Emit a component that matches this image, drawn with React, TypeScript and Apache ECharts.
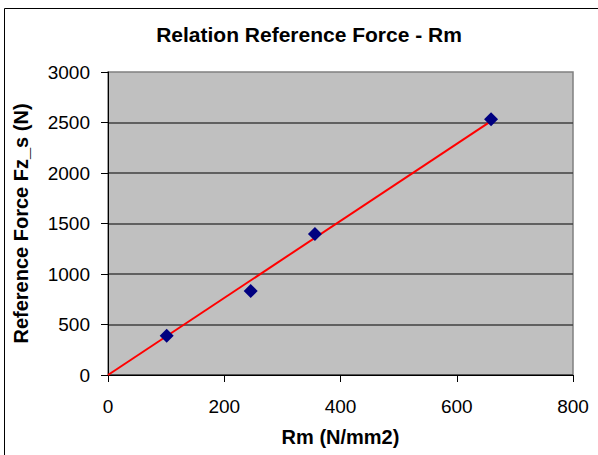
import React, { useEffect, useRef } from "react";
import * as echarts from "echarts";

const rmValues = [101, 245.5, 356, 659];
const forceValues = [389, 832, 1396, 2532];
const trendRm = [0, 659];
const trendForce = [0, 2514];
const titleText = "Relation Reference Force - Rm";
const xAxisName = "Rm (N/mm2)";
const yAxisName = "Reference Force Fz_s (N)";

const FONT = "'Liberation Sans', Arial, sans-serif";

export default function App() {
  const ref = useRef<HTMLDivElement>(null);
  useEffect(() => {
    if (!ref.current) return;
    const chart = echarts.init(ref.current, undefined, { renderer: "svg" });
    chart.setOption({
      animation: false,
      backgroundColor: "#ffffff",
      title: {
        text: titleText,
        left: 304,
        top: 19,
        textAlign: "center",
        textStyle: { fontFamily: FONT, fontSize: 21, fontWeight: "bold", color: "#000" },
      },
      graphic: [
        {
          type: "rect",
          shape: { x: 4.5, y: 8.5, width: 700, height: 600 },
          style: { fill: "none", stroke: "#000", lineWidth: 1 },
          silent: true,
          z: -1,
        },
      ],
      grid: {
        left: 108,
        right: 25,
        top: 72,
        bottom: 80,
        show: true,
        backgroundColor: "#C0C0C0",
        borderColor: "#808080",
        borderWidth: 1.5,
      },
      xAxis: {
        type: "value",
        min: 0,
        max: 800,
        interval: 200,
        name: xAxisName,
        nameLocation: "middle",
        nameGap: 52,
        nameTextStyle: { fontFamily: FONT, fontSize: 20, fontWeight: "bold", color: "#000" },
        axisLine: { show: true, onZero: false, lineStyle: { color: "#000", width: 1 } },
        axisTick: { show: true, inside: false, length: 7, lineStyle: { color: "#000" } },
        axisLabel: { fontFamily: FONT, fontSize: 19, color: "#000", margin: 22, formatter: (v: number) => String(v) },
        splitLine: { show: false },
      },
      yAxis: {
        type: "value",
        min: 0,
        max: 3000,
        interval: 500,
        name: yAxisName,
        nameLocation: "middle",
        nameGap: 77,
        nameTextStyle: { fontFamily: FONT, fontSize: 20, fontWeight: "bold", color: "#000" },
        axisLine: { show: true, onZero: false, lineStyle: { color: "#000", width: 1 } },
        axisTick: { show: true, inside: false, length: 7, lineStyle: { color: "#000" } },
        axisLabel: { fontFamily: FONT, fontSize: 19, color: "#000", margin: 18, formatter: (v: number) => String(v) },
        splitLine: { show: true, showMaxLine: false, lineStyle: { color: "#404040", width: 1.5 } },
      },
      series: [
        {
          type: "line",
          data: trendRm.map((x, i) => [x, trendForce[i]]),
          showSymbol: false,
          symbol: "none",
          lineStyle: { color: "#FF0000", width: 2 },
          z: 2,
        },
        {
          type: "scatter",
          data: rmValues.map((x, i) => [x, forceValues[i]]),
          symbol: "diamond",
          symbolSize: 14,
          itemStyle: { color: "#000080", opacity: 1 },
          z: 3,
        },
      ],
    });
    return () => chart.dispose();
  }, []);
  return (
    <div
      ref={ref}
      style={{ position: "fixed", left: 0, top: 0, width: 598, height: 455 }}
    />
  );
}
